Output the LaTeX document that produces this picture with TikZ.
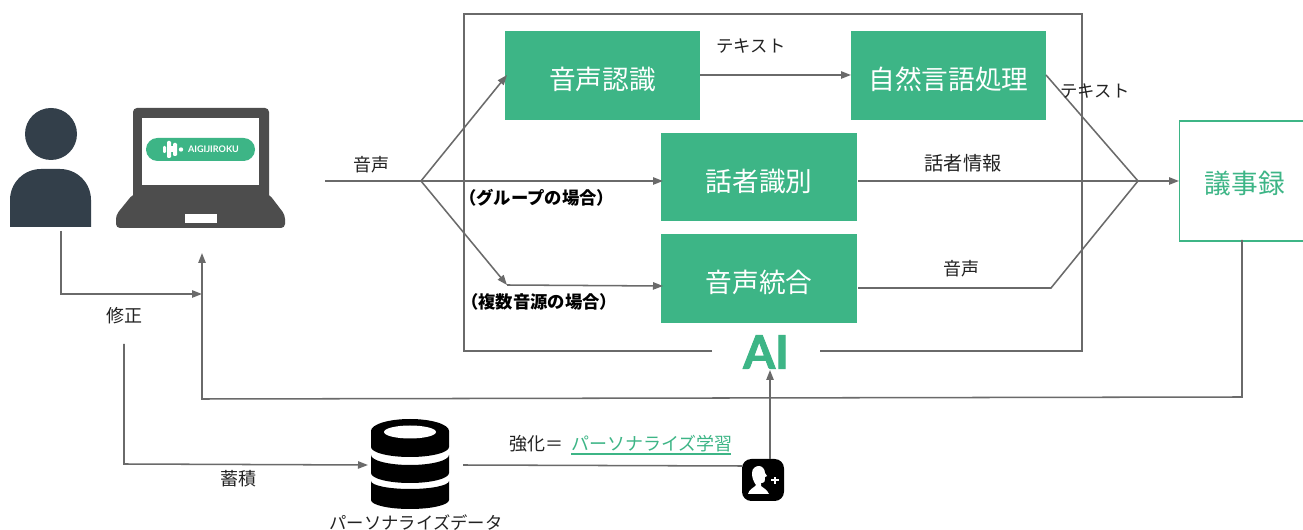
\documentclass[tikz,border=0pt]{standalone}
\usepackage{fontspec}
\setmainfont{Noto Sans CJK JP}
\newfontfamily\latinf{Lato}
\newfontfamily\aifont[BoldFeatures={FakeBold=2}]{Lato}
\usetikzlibrary{arrows.meta}
\definecolor{aigreen}{HTML}{3DB586}
\definecolor{lineg}{HTML}{6A6A6A}
\definecolor{persond}{HTML}{333F4A}
\definecolor{laptopg}{HTML}{4D4D4D}
\definecolor{txt}{HTML}{222222}
\newcommand{\bt}[1]{\raisebox{-10.8pt}[0pt][0pt]{#1}}
\tikzset{
 x=0.75pt,y=-0.75pt,
 conn/.style={draw=lineg,line width=1.15pt,line join=miter},
 arr/.style={conn,-{Triangle[length=7.5pt,width=5.5pt]}},
 gbox/.style={fill=aigreen,text=white,inner sep=0pt,minimum width=146.5pt,minimum height=66.5pt,font=\fontsize{20}{24}\selectfont},
 lab/.style={text=txt,inner sep=0pt,font=\fontsize{13}{16}\selectfont},
 blab/.style={text=black,inner sep=0pt,font=\fontsize{13}{16}\selectfont\bfseries},
}
\begin{document}
\begin{tikzpicture}
\useasboundingbox (0,0) rectangle (1303,530);
\clip (0,0) rectangle (1303,530);
\fill[white] (0,0) rectangle (1303,530);
% frame with a gap for AI
\coordinate (fa) at (712,351);\coordinate (fb) at (464,351);\coordinate (fc) at (464,14);
\coordinate (fd) at (1082,14);\coordinate (fe) at (1082,351);\coordinate (ff) at (820,351);
\draw[conn] (fa) -- (fb) -- (fc) -- (fd) -- (fe) -- (ff);
% boxes
\node[gbox] (asr) at (602.5,75.5) {\bt{音声認識}};
\node[gbox] (nlp) at (948.5,75.5) {\bt{自然言語処理}};
\node[gbox] (spk) at (759,177) {\bt{話者識別}};
\node[gbox] (mix) at (759,278.5) {\bt{音声統合}};
\node[draw=aigreen,line width=1pt,text=aigreen,inner sep=0pt,minimum width=105pt,minimum height=90pt,font=\fontsize{20}{24}\selectfont,anchor=west] (minutes) at (1179,181) {\hspace*{-7.5pt}\raisebox{-9.1pt}[0pt][0pt]{議事録}};
\node[text=aigreen,inner sep=0pt,font=\fontsize{34.5}{40}\selectfont\bfseries\aifont] (ai) at (766,352) {AI};
% person
\fill[persond] (51,134) circle[radius=26];
\fill[persond] (10,227) -- (10,200) arc[start angle=180,end angle=270,radius=31] -- (60,169) arc[start angle=270,end angle=360,radius=31] -- (91,227) -- cycle;
% laptop
\fill[laptopg,rounded corners=3pt] (133,108) rectangle (269,200);
\fill[laptopg,rounded corners=3pt] (133,194) -- (269,194) -- (285,215) -- (285,228) -- (116,228) -- (116,215) -- cycle;
\fill[white] (142,118) rectangle (259,185);
\fill[white] (185,214) rectangle (217,223);
\fill[aigreen,rounded corners=8.6pt] (146,138) rectangle (255,161);
\fill[white,rounded corners=0.8pt] (163,146) rectangle (166,153);
\fill[white,rounded corners=0.8pt] (167,141) rectangle (171,158);
\fill[white] (171,146) rectangle (173,152);
\fill[white,rounded corners=0.8pt] (173,143) rectangle (177,156);
\fill[white] (181,149.5) circle[radius=2.2];
\node[text=white,inner sep=0pt,font=\fontsize{6.8}{8}\selectfont\bfseries\latinf] (logo) at (213.5,149.5) {AIGIJIROKU};
% database
\fill[black] (371,447) -- (371,431) arc[start angle=180,end angle=360,x radius=39,y radius=12] -- (449,447) arc[start angle=0,end angle=180,x radius=39,y radius=10] -- cycle;
\fill[white] (410,432) ellipse[x radius=26,y radius=6.5];
\fill[black] (371,455) arc[start angle=180,end angle=0,x radius=39,y radius=10] -- (449,473) arc[start angle=0,end angle=180,x radius=39,y radius=10] -- cycle;
\fill[black] (371,481) arc[start angle=180,end angle=0,x radius=39,y radius=8] -- (449,500) arc[start angle=0,end angle=180,x radius=39,y radius=9] -- cycle;
\coordinate (dbin) at (368,465);\coordinate (dbout) at (463,465);
% person-plus icon
\fill[black,rounded corners=7pt] (742,459) rectangle (784,501);
\fill[white] (748,494) .. controls (749,489) and (754,488) .. (756,485) .. controls (753,481) and (752,477) .. (752,473) .. controls (752,468) and (756,466) .. (759,466) .. controls (762,466) and (765,469) .. (765,473) -- (767,476) -- (765,477) .. controls (765,481) and (765,483) .. (761,483) -- (761,486) .. controls (764,488) and (767,490) .. (769,494) -- cycle;
\fill[white] (771,479.5) rectangle (779,481.5);
\fill[white] (774,477) rectangle (776,484);
% junctions
\coordinate (src) at (325,181);\coordinate (j1) at (421,181);\coordinate (j2) at (507,285);
\coordinate (asrin) at (507,75);\coordinate (sj) at (1138,181);\coordinate (mj) at (1051,288);
\coordinate (nlpout) at (1046,75);\coordinate (spkout) at (858,181);\coordinate (mixout) at (858,288);
\coordinate (spkin) at (663,181);\coordinate (mixin) at (663,286);
\coordinate (asrout) at (700,75);\coordinate (nlpin) at (851,75);
\coordinate (u1) at (61,231);\coordinate (u2) at (61,294);\coordinate (u3) at (202,294);
\coordinate (c1) at (124,344);\coordinate (c2) at (124,464);
\coordinate (m1) at (1242,240);\coordinate (m2) at (1242,397);\coordinate (m3) at (202,399);\coordinate (m4) at (202,253);
\coordinate (i1) at (742,466);\coordinate (i2) at (770,459);\coordinate (i3) at (770,370);
\draw[arr] (src) -- (spkin);
\draw[arr] (j1) -- (asrin);
\draw[arr] (j1) -- (j2);
\draw[arr] (j2) -- (mixin);
\draw[arr] (asrout) -- (nlpin);
\draw[conn] (nlpout) -- (sj);
\draw[arr] (spkout) -- (minutes.west);
\draw[conn] (mixout) -- (mj) -- (sj);
\draw[arr] (u1) -- (u2) -- (u3);
\draw[arr] (m1) -- (m2) -- (m3) -- (m4);
\draw[arr] (c1) -- (c2) -- (dbin);
\draw[conn] (dbout) -- (i1);
\draw[arr] (i2) -- (i3);
% labels
\node[lab,font=\fontsize{13.5}{16}\selectfont] (l1) at (371,165) {音声};
\node[lab] (l2) at (751,46) {テキスト};
\node[lab] (l3) at (1095,91) {テキスト};
\node[lab,font=\fontsize{14.4}{16}\selectfont] (l4) at (963,163) {話者情報};
\node[lab,font=\fontsize{13.5}{16}\selectfont] (l5) at (961,269) {音声};
\node[blab,anchor=west] (l6) at (459,198) {（グループの場合）};
\node[blab,anchor=west] (l7) at (461,302) {（複数音源の場合）};
\node[lab,font=\fontsize{13.5}{16}\selectfont] (l8) at (124,316) {修正};
\node[lab,font=\fontsize{13.5}{16}\selectfont] (l9) at (238,479) {蓄積};
\node[lab] (l10) at (416,523) {パーソナライズデータ};
\node[lab,anchor=west,font=\fontsize{13.5}{16}\selectfont] (l11) at (509,444) {強化＝};
\node[lab,text=aigreen,anchor=west,font=\fontsize{13.5}{16}\selectfont] (l12) at (571,444) {パーソナライズ学習};
\draw[aigreen,line width=0.9pt] (571,454) -- (731,454);
\end{tikzpicture}
\end{document}
